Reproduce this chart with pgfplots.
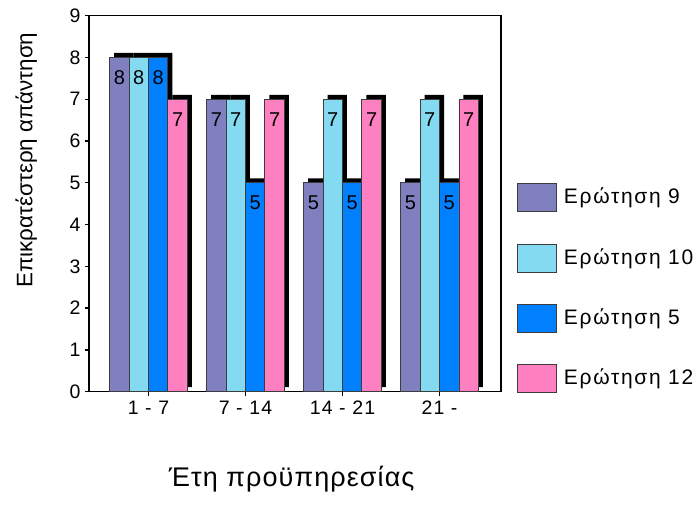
\documentclass[border=0pt]{standalone}
\usepackage{fontspec}
\setmainfont{Liberation Sans}
\newfontfamily\spaced[LetterSpace=6]{Liberation Sans}
\newfontfamily\legfont[LetterSpace=8]{Liberation Sans}
\newfontfamily\xlab[LetterSpace=4]{Liberation Sans}
\usepackage{pgfplots}
\pgfplotsset{compat=1.18}
\definecolor{cA}{RGB}{128,128,192}
\definecolor{cB}{RGB}{132,218,240}
\definecolor{cC}{RGB}{0,128,255}
\definecolor{cD}{RGB}{255,128,192}
\definecolor{edge}{RGB}{60,60,60}
\begin{document}
\begin{tikzpicture}
\path[use as bounding box, clip] (0,0) rectangle (698pt,506pt);
\begin{axis}[
  at={(89pt,114.3pt)}, anchor=south west,
  scale only axis, width=412pt, height=376pt,
  xmin=-0.613, xmax=3.634, ymin=0, ymax=9,
  ybar, bar width=0.2,
  xtick={0,1,2,3}, xticklabels={1 - 7, 7 - 14, 14 - 21, 21 -},
  ytick={0,1,...,9},
  tick pos=left, tick align=outside, major tick length=4pt,
  tick style={black, line width=1.3pt},
  axis line style={line width=1.3pt},
  /pgf/number format/assume math mode=true,
  xticklabel style={font=\spaced\fontsize{19.5}{20}\selectfont, yshift=-2pt},
  yticklabel style={font=\spaced\fontsize{19.5}{20}\selectfont, xshift=-1pt},
  ylabel={Επικρατέστερη απάντηση},
  xlabel={Έτη προϋπηρεσίας},
  every axis y label/.style={at={(axis description cs:-0.152,0.616)}, rotate=90, anchor=center, font=\fontsize{22.4}{23}\selectfont},
  every axis x label/.style={at={(axis description cs:0.492,-0.2526)}, anchor=base, font=\xlab\fontsize{27}{27}\selectfont},
  legend cell align=left,
  legend style={at={(axis description cs:1.0388,0.5547)}, anchor=north west, draw=none, fill=none,
    font=\legfont\fontsize{21}{21}\selectfont, inner sep=0pt, row sep=31.5pt,
    nodes={inner sep=0pt, outer sep=0pt}, column sep=7pt},
  legend image code/.code={\draw[#1, draw=edge, line width=0.8pt] (0pt,-15pt) rectangle (39pt,13pt);},
]
% shadows
\addplot[fill=black, draw=none, bar shift=-0.3, xshift=4.5pt, yshift=4.5pt, forget plot] coordinates {(0,8) (1,7) (2,5) (3,5)};
\addplot[fill=black, draw=none, bar shift=-0.1, xshift=4.5pt, yshift=4.5pt, forget plot] coordinates {(0,8) (1,7) (2,7) (3,7)};
\addplot[fill=black, draw=none, bar shift=0.1, xshift=4.5pt, yshift=4.5pt, forget plot] coordinates {(0,8) (1,5) (2,5) (3,5)};
\addplot[fill=black, draw=none, bar shift=0.3, xshift=4.5pt, yshift=4.5pt, forget plot] coordinates {(0,7) (1,7) (2,7) (3,7)};
% bars
\pgfplotsset{every node near coord/.append style={anchor=north, inner sep=0pt, yshift=-13pt, font=\spaced\fontsize{20}{20}\selectfont, color=black}}
\addplot[fill=cA, draw=edge, line width=0.8pt, bar shift=-0.3, nodes near coords] coordinates {(0,8) (1,7) (2,5) (3,5)};
\addlegendentry{Ερώτηση 9}
\addplot[fill=cB, draw=edge, line width=0.8pt, bar shift=-0.1, nodes near coords] coordinates {(0,8) (1,7) (2,7) (3,7)};
\addlegendentry{Ερώτηση 10}
\addplot[fill=cC, draw=edge, line width=0.8pt, bar shift=0.1, nodes near coords] coordinates {(0,8) (1,5) (2,5) (3,5)};
\addlegendentry{Ερώτηση 5}
\addplot[fill=cD, draw=edge, line width=0.8pt, bar shift=0.3, nodes near coords] coordinates {(0,7) (1,7) (2,7) (3,7)};
\addlegendentry{Ερώτηση 12}
\end{axis}
\end{tikzpicture}
\end{document}
